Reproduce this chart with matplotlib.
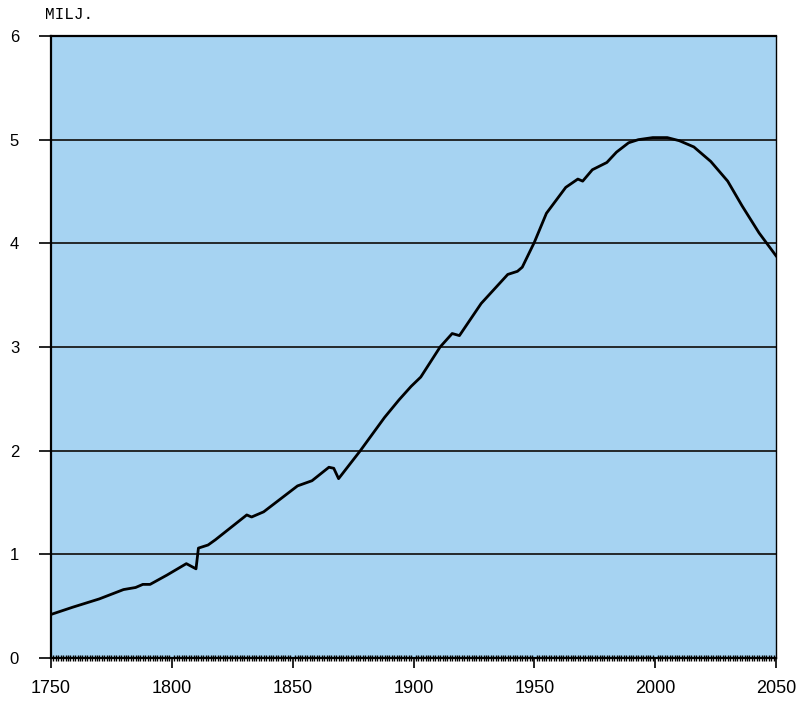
import matplotlib
matplotlib.use("Agg")
import matplotlib.pyplot as plt
from matplotlib.ticker import MultipleLocator

# population in millions
years = [1750, 1759, 1770, 1780, 1785, 1788, 1791, 1798, 1806, 1810,
         1811, 1815, 1818, 1831, 1833, 1838, 1852, 1858, 1865, 1867,
         1869, 1878, 1888, 1894, 1899, 1903, 1911, 1916, 1919, 1928,
         1939, 1943, 1945, 1950, 1955, 1963, 1968, 1970, 1974, 1980,
         1984, 1989, 1993, 1999, 2005, 2010, 2016, 2023, 2030, 2036,
         2043, 2050]
pop = [0.42, 0.49, 0.57, 0.66, 0.68, 0.71, 0.71, 0.80, 0.91, 0.86,
       1.06, 1.09, 1.14, 1.38, 1.36, 1.41, 1.66, 1.71, 1.84, 1.83,
       1.73, 2.00, 2.32, 2.49, 2.62, 2.71, 3.00, 3.13, 3.11, 3.42,
       3.70, 3.73, 3.77, 4.01, 4.29, 4.54, 4.62, 4.60, 4.71, 4.78,
       4.88, 4.97, 5.00, 5.02, 5.02, 4.99, 4.93, 4.79, 4.60, 4.36,
       4.10, 3.88]

xticks = [1750, 1800, 1850, 1900, 1950, 2000, 2050]
yticks = [0, 1, 2, 3, 4, 5, 6]

fig = plt.figure(figsize=(8.02, 7.02), dpi=100)
ax = fig.add_axes([0.0636, 0.0627, 0.904, 0.886])
ax.set_facecolor('#a6d3f2')

for v in yticks[1:-1]:
    ax.axhline(v, color='#1a1a1a', lw=1.3, zorder=1)

ax.plot(years, pop, color='black', lw=2.0, zorder=3)

ax.set_xlim(1750, 2050)
ax.set_ylim(0, 6)
ax.set_xticks(xticks)
ax.set_yticks(yticks)
ax.xaxis.set_minor_locator(MultipleLocator(1))

ax.tick_params(axis='x', which='major', direction='out', length=7, width=1.2,
               pad=9, labelsize=13)
ax.tick_params(axis='x', which='minor', direction='inout', length=5, width=1.0)
ax.tick_params(axis='y', direction='out', length=9, width=1.2, pad=14,
               labelsize=12)

for lab in ax.get_xticklabels() + ax.get_yticklabels():
    lab.set_family('Liberation Sans')

for side in ['left', 'bottom', 'top']:
    ax.spines[side].set_linewidth(1.6)
ax.spines['right'].set_linewidth(1.0)

fig.text(0.056, 0.979, 'MILJ.', family='Liberation Mono', fontsize=11.5,
         va='center', ha='left')

fig.savefig('out.png', dpi=100)
